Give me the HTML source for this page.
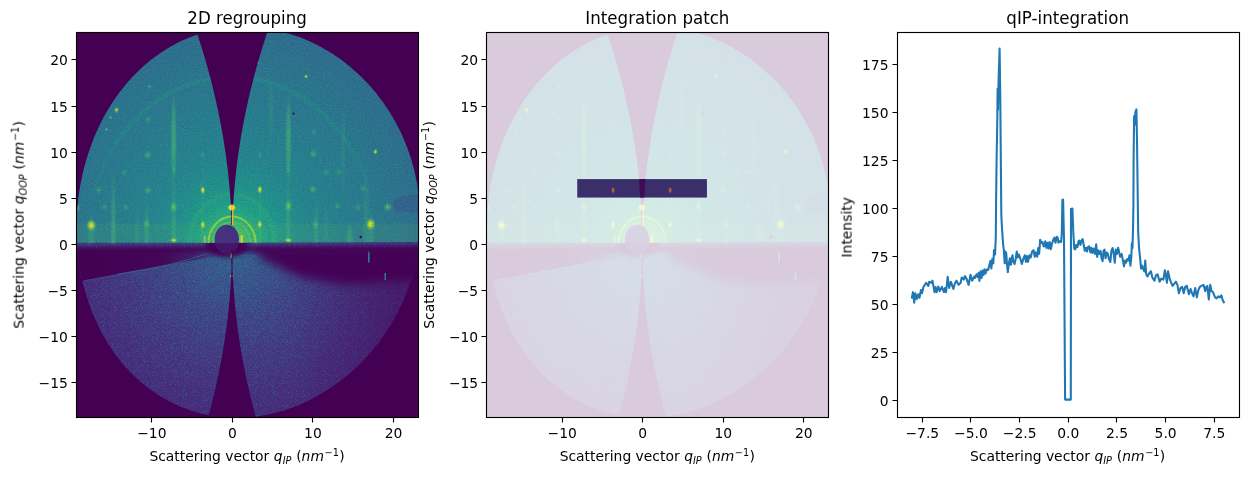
<!DOCTYPE html>
<html lang="en"><head><meta charset="utf-8"><title>qIP-integration</title>
<style>html,body{margin:0;padding:0;background:#fff}svg{display:block}text{font-family:'DejaVu Sans','Liberation Sans',sans-serif;fill:#000}</style></head>
<body>
<svg width="1248" height="478" viewBox="0 0 898.56 344.16">
<rect width="898.56" height="344.16" fill="#fff"/>
<defs><radialGradient id="gu" gradientUnits="userSpaceOnUse" cx="0" cy="0" r="260" gradientTransform="translate(232 243.5) scale(1 1.08)"><stop offset="0.000" stop-color="#7ad151"/><stop offset="0.035" stop-color="#60ca60"/><stop offset="0.062" stop-color="#40bd72"/><stop offset="0.096" stop-color="#29af7f"/><stop offset="0.146" stop-color="#1f9f88"/><stop offset="0.212" stop-color="#21918c"/><stop offset="0.308" stop-color="#25858e"/><stop offset="0.423" stop-color="#277e8e"/><stop offset="0.538" stop-color="#2a788e"/><stop offset="0.654" stop-color="#2c728e"/><stop offset="0.769" stop-color="#2f6c8e"/><stop offset="0.885" stop-color="#31678e"/><stop offset="1.000" stop-color="#33628d"/></radialGradient><radialGradient id="gl" gradientUnits="userSpaceOnUse" cx="0" cy="0" r="230" gradientTransform="translate(232 252) scale(1 1.05)"><stop offset="0.000" stop-color="#414487"/><stop offset="0.261" stop-color="#453781"/><stop offset="0.522" stop-color="#472e7c"/><stop offset="0.783" stop-color="#482576"/><stop offset="1.000" stop-color="#481f70"/></radialGradient><radialGradient id="d1" gradientUnits="userSpaceOnUse" cx="0" cy="0" r="240" gradientTransform="translate(232 256) scale(1 1)"><stop offset="0.000" stop-color="#fff" stop-opacity="0.860"/><stop offset="0.104" stop-color="#fff" stop-opacity="0.770"/><stop offset="0.250" stop-color="#fff" stop-opacity="0.650"/><stop offset="0.458" stop-color="#fff" stop-opacity="0.550"/><stop offset="0.667" stop-color="#fff" stop-opacity="0.480"/><stop offset="0.833" stop-color="#fff" stop-opacity="0.440"/><stop offset="1.000" stop-color="#fff" stop-opacity="0.410"/></radialGradient><radialGradient id="d2" gradientUnits="userSpaceOnUse" cx="0" cy="0" r="240" gradientTransform="translate(232 256) scale(1 1)"><stop offset="0.000" stop-color="#fff" stop-opacity="0.620"/><stop offset="0.104" stop-color="#fff" stop-opacity="0.540"/><stop offset="0.250" stop-color="#fff" stop-opacity="0.430"/><stop offset="0.458" stop-color="#fff" stop-opacity="0.330"/><stop offset="0.667" stop-color="#fff" stop-opacity="0.250"/><stop offset="0.833" stop-color="#fff" stop-opacity="0.200"/><stop offset="1.000" stop-color="#fff" stop-opacity="0.170"/></radialGradient><filter id="n1" x="0" y="0" width="100%" height="100%" color-interpolation-filters="sRGB"><feTurbulence type="fractalNoise" baseFrequency="1.1" numOctaves="2" seed="7" result="t"/><feColorMatrix in="t" type="matrix" values="0 0 0 0 0  0 0 0 0 0  0 0 0 0 0  1 0 0 0 0" result="n"/><feComposite in="n" in2="SourceGraphic" operator="arithmetic" k1="0" k2="1" k3="1" k4="-1" result="a"/><feComponentTransfer in="a" result="b"><feFuncA type="linear" slope="3.6" intercept="0"/></feComponentTransfer><feFlood flood-color="#3a548c" result="f"/><feComposite in="f" in2="b" operator="in" result="c"/><feGaussianBlur in="c" stdDeviation="0.6"/></filter><filter id="n2" x="0" y="0" width="100%" height="100%" color-interpolation-filters="sRGB"><feTurbulence type="fractalNoise" baseFrequency="1.2" numOctaves="2" seed="3" result="t"/><feColorMatrix in="t" type="matrix" values="0 0 0 0 0  0 0 0 0 0  0 0 0 0 0  0 1 0 0 0" result="n"/><feComposite in="n" in2="SourceGraphic" operator="arithmetic" k1="0" k2="1" k3="1" k4="-1" result="a"/><feComponentTransfer in="a" result="b"><feFuncA type="linear" slope="3.6" intercept="0"/></feComponentTransfer><feFlood flood-color="#2d718e" result="f"/><feComposite in="f" in2="b" operator="in" result="c"/><feGaussianBlur in="c" stdDeviation="0.6"/></filter><linearGradient id="hb" x1="0" x2="0" y1="0" y2="1"><stop offset="0" stop-color="#fff" stop-opacity=".68"/><stop offset=".4" stop-color="#fff" stop-opacity=".5"/><stop offset="1" stop-color="#fff" stop-opacity=".15"/></linearGradient><linearGradient id="hd" x1="0" x2="0" y1="0" y2="1"><stop offset="0" stop-color="#440154" stop-opacity=".9"/><stop offset=".55" stop-color="#440154" stop-opacity=".8"/><stop offset="1" stop-color="#440154" stop-opacity="0"/></linearGradient><linearGradient id="rgq" gradientUnits="userSpaceOnUse" x1="0" x2="0" y1="70" y2="215"><stop offset="0" stop-color="#22a884" stop-opacity="1"/><stop offset=".45" stop-color="#22a884" stop-opacity=".8"/><stop offset="1" stop-color="#22a884" stop-opacity="0"/></linearGradient><linearGradient id="hs" x1="0" x2="0" y1="0" y2="1"><stop offset="0" stop-color="#414487" stop-opacity=".75"/><stop offset=".5" stop-color="#443a83" stop-opacity=".4"/><stop offset="1" stop-color="#472a7a" stop-opacity="0"/></linearGradient><linearGradient id="drk" x1="0" x2="1" y1="0" y2="0"><stop offset="0" stop-color="#440154" stop-opacity="0"/><stop offset="1" stop-color="#440154" stop-opacity=".42"/></linearGradient><linearGradient id="shL" x1="76" x2="216" y1="0" y2="0" gradientUnits="userSpaceOnUse"><stop offset="0" stop-color="#440154" stop-opacity="1"/><stop offset=".6" stop-color="#440154" stop-opacity=".93"/><stop offset=".85" stop-color="#440154" stop-opacity=".6"/><stop offset="1" stop-color="#440154" stop-opacity=".15"/></linearGradient><filter id="n3" x="0" y="0" width="100%" height="100%" color-interpolation-filters="sRGB"><feTurbulence type="fractalNoise" baseFrequency="1.15" numOctaves="2" seed="17" result="t"/><feColorMatrix in="t" type="matrix" values="0 0 0 0 0  0 0 0 0 0  0 0 0 0 0  0 0 1 0 0" result="n"/><feComposite in="n" in2="SourceGraphic" operator="arithmetic" k1="0" k2="1" k3="1" k4="-1" result="a"/><feComponentTransfer in="a" result="b"><feFuncA type="linear" slope="3.2" intercept="0"/></feComponentTransfer><feFlood flood-color="#3c4f8a" result="f"/><feComposite in="f" in2="b" operator="in" result="c"/><feGaussianBlur in="c" stdDeviation="0.5"/></filter><filter id="n4" x="0" y="0" width="100%" height="100%" color-interpolation-filters="sRGB"><feTurbulence type="fractalNoise" baseFrequency="1.2" numOctaves="2" seed="29" result="t"/><feColorMatrix in="t" type="matrix" values="0 0 0 0 0  0 0 0 0 0  0 0 0 0 0  1 0 0 0 0" result="n"/><feComposite in="n" in2="SourceGraphic" operator="arithmetic" k1="0" k2="1" k3="1" k4="-1" result="a"/><feComponentTransfer in="a" result="b"><feFuncA type="linear" slope="3" intercept="0"/></feComponentTransfer><feFlood flood-color="#482173" result="f"/><feComposite in="f" in2="b" operator="in" result="c"/><feGaussianBlur in="c" stdDeviation="0.5"/></filter><radialGradient id="dbs" gradientUnits="userSpaceOnUse" cx="0" cy="0" r="16" gradientTransform="translate(226.8 239.2) scale(1 1)"><stop offset="0.000" stop-color="#fff" stop-opacity="0.500"/><stop offset="1.000" stop-color="#fff" stop-opacity="0.500"/></radialGradient><filter id="ng" x="0" y="0" width="100%" height="100%" color-interpolation-filters="sRGB"><feTurbulence type="fractalNoise" baseFrequency="0.7" numOctaves="2" seed="11" result="t"/><feColorMatrix in="t" type="matrix" values="0 0 0 0 .15  0 0 0 0 .68  0 0 0 0 .51  1.1 0 0 0 -0.55" result="c"/><feGaussianBlur in="c" stdDeviation=".7"/></filter><filter id="nd" x="0" y="0" width="100%" height="100%" color-interpolation-filters="sRGB"><feTurbulence type="fractalNoise" baseFrequency="0.7" numOctaves="2" seed="11" result="t"/><feColorMatrix in="t" type="matrix" values="0 0 0 0 .23  0 0 0 0 .32  0 0 0 0 .55  -1.1 0 0 0 0.55" result="c"/><feGaussianBlur in="c" stdDeviation=".7"/></filter><radialGradient id="rg"><stop offset="0" stop-color="#58c765" stop-opacity="1"/><stop offset=".55" stop-color="#4ec36b" stop-opacity=".7"/><stop offset="1" stop-color="#3bbb75" stop-opacity="0"/></radialGradient><radialGradient id="sp"><stop offset="0" stop-color="#fde725"/><stop offset=".3" stop-color="#dde318" stop-opacity=".92"/><stop offset=".6" stop-color="#8bd646" stop-opacity=".5"/><stop offset="1" stop-color="#35b779" stop-opacity="0"/></radialGradient><radialGradient id="sg"><stop offset="0" stop-color="#a8db34" stop-opacity=".9"/><stop offset=".45" stop-color="#5ec962" stop-opacity=".55"/><stop offset="1" stop-color="#35b779" stop-opacity="0"/></radialGradient><radialGradient id="sf"><stop offset="0" stop-color="#5ec962" stop-opacity=".75"/><stop offset=".55" stop-color="#35b779" stop-opacity=".35"/><stop offset="1" stop-color="#22a884" stop-opacity="0"/></radialGradient><filter id="b1" x="-50%" y="-50%" width="200%" height="200%"><feGaussianBlur stdDeviation=".6"/></filter><filter id="b6" x="-20%" y="-50%" width="140%" height="200%"><feGaussianBlur stdDeviation="5"/></filter><filter id="b3" x="-50%" y="-50%" width="200%" height="200%"><feGaussianBlur stdDeviation="2.2"/></filter><clipPath id="clow"><rect x="70" y="243.10" width="360" height="200"/></clipPath><filter id="b2" x="-50%" y="-50%" width="200%" height="200%"><feGaussianBlur stdDeviation="1.4"/></filter><clipPath id="cax"><rect x="76.128" y="32.333" width="341.912" height="385.000"/></clipPath><clipPath id="cdet"><path d="M76.6 222.8L77.2 210.2L78.4 197.6L80.3 185.2L82.8 172.9L86.0 160.8L89.8 148.9L94.2 137.3L99.2 126.0L104.8 115.1L111.1 104.6L117.9 94.5L125.3 85.0L133.3 76.1L141.7 67.8L150.7 60.1L160.1 53.2L169.9 47.0L180.1 41.6L190.6 37.1L201.3 33.3L212.3 30.5L223.3 28.4L234.5 27.3L245.7 26.9L256.9 27.5L268.0 28.8L279.0 30.9L289.9 33.9L300.6 37.6L311.1 42.0L321.4 47.2L331.3 53.1L341.0 59.6L350.3 66.9L359.1 74.8L367.6 83.3L375.6 92.5L383.0 102.2L389.9 112.5L396.2 123.4L401.9 134.7L406.8 146.4L411.0 158.6L414.5 171.0L417.1 183.8L419.0 196.7L420.0 209.7L420.2 222.8L419.5 235.8L418.0 248.8L415.8 261.5L412.7 274.0L408.9 286.2L404.3 298.0L399.1 309.4L393.3 320.3L386.9 330.8L380.0 340.7L372.6 350.1L364.7 359.0L356.4 367.3L347.8 375.0L338.7 382.1L329.4 388.7L319.7 394.6L309.8 400.0L299.6 404.7L289.2 408.7L278.6 412.0L267.8 414.6L256.8 416.5L245.7 417.6L234.5 417.9L223.3 417.3L212.1 415.9L201.0 413.6L190.1 410.3L179.3 406.2L168.8 401.2L158.7 395.3L148.9 388.6L139.6 381.0L130.8 372.7L122.6 363.6L115.0 353.9L108.1 343.7L101.8 332.9L96.2 321.6L91.3 310.0L87.1 298.0L83.6 285.8L80.8 273.4L78.7 260.8L77.4 248.2L76.6 235.5Z"/></clipPath><clipPath id="cbs"><ellipse cx="226.8" cy="239.2" rx="12.2" ry="14.4"/></clipPath><clipPath id="cup"><path d="M70 28H430V241.95L70 243.55Z"/></clipPath></defs>
<g transform="scale(0.72)">
<g id="img" clip-path="url(#cax)"><rect x="70" y="28" width="356" height="396" fill="#440154"/><g clip-path="url(#cdet)"><rect x="70" y="241.30" width="360" height="188" fill="url(#gl)"/><rect x="70" y="241.30" width="360" height="188" fill="url(#d1)" filter="url(#n1)"/><rect x="70" y="241.30" width="360" height="188" fill="url(#d2)" filter="url(#n2)"/><path d="M252 246L430 246L430 279L345 285L300 277L264 260Z" fill="#440154" opacity=".97" filter="url(#b6)"/><rect x="290" y="242.80" width="140" height="180" fill="url(#drk)"/><path d="M70 246L214 246L216 256.5L150 268.5L84 280.8L70 284Z" fill="url(#shL)"/><path d="M84 280.8L150 268.5L216 256.5" stroke="#375a8c" stroke-width=".9" fill="none" opacity=".85"/><path d="M118 274Q170 267 212 252" stroke="#2e6f8e" stroke-width=".9" fill="none" opacity=".85"/><rect x="368.1" y="251.5" width="1.5" height="11" fill="#1f958b" opacity=".95" filter="url(#b1)"/><rect x="384.5" y="273" width="1.5" height="7" fill="#228b8d" opacity=".95" filter="url(#b1)"/><rect x="230.4" y="275" width="2.8" height="2" fill="#fde725" opacity=".8"/><g transform="rotate(-0.255 232 242.80)"><rect x="60" y="241.60" width="380" height="14" fill="url(#hd)"/><rect x="60" y="242.30" width="380" height="8" fill="url(#hs)"/><rect x="60" y="242.30" width="380" height="8.5" fill="url(#hb)" filter="url(#n3)"/></g><g clip-path="url(#cup)"><rect x="70" y="28" width="360" height="214.80" fill="url(#gu)"/><rect x="70" y="223.5" width="360" height="19.30" fill="#7ad151" opacity=".10"/><path d="M394 200Q402 194 420 195L420 213L396 212Q392 206 394 200Z" fill="#375a8c" opacity=".72" filter="url(#b1)"/><ellipse cx="113.5" cy="243.0" rx="3.3" ry="75.0" fill="url(#rg)" opacity="0.45"/><ellipse cx="146.6" cy="243.0" rx="3.6" ry="48.0" fill="url(#rg)" opacity="0.30"/><ellipse cx="173.7" cy="140.0" rx="3.4" ry="48.0" fill="url(#rg)" opacity="0.55"/><ellipse cx="173.7" cy="243.0" rx="3.4" ry="70.0" fill="url(#rg)" opacity="0.36"/><ellipse cx="202.8" cy="243.0" rx="2.8" ry="80.0" fill="url(#rg)" opacity="0.16"/><ellipse cx="260.0" cy="243.0" rx="2.8" ry="80.0" fill="url(#rg)" opacity="0.16"/><ellipse cx="288.4" cy="140.0" rx="3.4" ry="48.0" fill="url(#rg)" opacity="0.55"/><ellipse cx="288.4" cy="243.0" rx="3.4" ry="70.0" fill="url(#rg)" opacity="0.36"/><ellipse cx="316.0" cy="243.0" rx="3.6" ry="48.0" fill="url(#rg)" opacity="0.28"/><ellipse cx="349.6" cy="243.0" rx="4.5" ry="24.0" fill="url(#rg)" opacity="0.38"/><ellipse cx="365.9" cy="225.0" rx="3.6" ry="70.0" fill="url(#rg)" opacity="0.20"/><ellipse cx="91.3" cy="243.0" rx="4.5" ry="34.0" fill="url(#rg)" opacity="0.28"/><ellipse cx="370.8" cy="243.0" rx="4.5" ry="36.0" fill="url(#rg)" opacity="0.28"/><ellipse cx="137.0" cy="243.0" rx="3.4" ry="42.0" fill="url(#rg)" opacity="0.16"/><ellipse cx="326.0" cy="243.0" rx="3.4" ry="42.0" fill="url(#rg)" opacity="0.14"/><ellipse cx="271.0" cy="110.0" rx="3.0" ry="40.0" fill="url(#rg)" opacity="0.16"/><ellipse cx="343.0" cy="150.0" rx="3.0" ry="50.0" fill="url(#rg)" opacity="0.14"/><ellipse cx="232" cy="243.5" rx="145" ry="166.5" fill="none" stroke="url(#rgq)" stroke-width="3.6" opacity=".36" filter="url(#b2)"/><ellipse cx="232.0" cy="243.5" rx="42.69" ry="48.91" fill="none" stroke="#5ec962" stroke-width="3.00" opacity="0.22" filter="url(#b2)"/><ellipse cx="232.0" cy="243.5" rx="23.60" ry="27.04" fill="none" stroke="#b0dd2f" stroke-width="2.00" opacity="0.78" filter="url(#b1)"/><ellipse cx="232.0" cy="243.5" rx="18.53" ry="21.23" fill="none" stroke="#86d549" stroke-width="1.30" opacity="0.45" filter="url(#b1)"/><rect x="203.7" y="235.5" width="2.2" height="7.5" fill="#fde725" opacity="0.45" filter="url(#b1)"/><rect x="240.6" y="235.5" width="2.2" height="7.5" fill="#fde725" opacity="0.80" filter="url(#b1)"/><ellipse cx="91.3" cy="225.4" rx="5.6" ry="6.8" fill="url(#sp)" opacity="1.00"/><ellipse cx="370.6" cy="224.2" rx="5.6" ry="7.0" fill="url(#sp)" opacity="1.00"/><ellipse cx="202.8" cy="190.2" rx="3.0" ry="4.8" fill="url(#sp)" opacity="1.00"/><ellipse cx="202.8" cy="224.8" rx="3.0" ry="5.0" fill="url(#sp)" opacity="1.00"/><ellipse cx="259.8" cy="189.6" rx="3.0" ry="4.8" fill="url(#sp)" opacity="1.00"/><ellipse cx="259.8" cy="224.4" rx="3.0" ry="5.0" fill="url(#sp)" opacity="1.00"/><ellipse cx="173.7" cy="207.3" rx="4.0" ry="6.0" fill="url(#sg)" opacity="0.90"/><ellipse cx="173.7" cy="240.2" rx="4.5" ry="2.6" fill="url(#sp)" opacity="0.90"/><ellipse cx="288.4" cy="206.1" rx="4.0" ry="6.5" fill="url(#sg)" opacity="0.90"/><ellipse cx="288.4" cy="240.2" rx="4.5" ry="2.6" fill="url(#sp)" opacity="0.90"/><ellipse cx="147.8" cy="155.0" rx="4.4" ry="4.8" fill="url(#sg)" opacity="0.55"/><ellipse cx="147.8" cy="190.2" rx="4.4" ry="4.8" fill="url(#sg)" opacity="0.55"/><ellipse cx="146.6" cy="224.0" rx="4.0" ry="6.0" fill="url(#sg)" opacity="0.55"/><ellipse cx="313.4" cy="153.9" rx="4.4" ry="4.8" fill="url(#sg)" opacity="0.55"/><ellipse cx="313.0" cy="189.3" rx="4.4" ry="4.8" fill="url(#sg)" opacity="0.55"/><ellipse cx="315.6" cy="224.6" rx="3.4" ry="5.2" fill="url(#sg)" opacity="0.55"/><ellipse cx="125.7" cy="207.3" rx="4.0" ry="4.6" fill="url(#sf)" opacity="0.70"/><ellipse cx="104.6" cy="207.3" rx="4.0" ry="4.6" fill="url(#sf)" opacity="0.60"/><ellipse cx="98.9" cy="190.2" rx="4.0" ry="4.6" fill="url(#sf)" opacity="0.70"/><ellipse cx="124.0" cy="172.6" rx="4.0" ry="4.2" fill="url(#sf)" opacity="0.60"/><ellipse cx="337.4" cy="206.1" rx="4.0" ry="4.6" fill="url(#sf)" opacity="0.70"/><ellipse cx="357.8" cy="207.5" rx="4.0" ry="5.2" fill="url(#sf)" opacity="0.60"/><ellipse cx="363.2" cy="188.4" rx="4.0" ry="4.6" fill="url(#sf)" opacity="0.60"/><ellipse cx="326.0" cy="172.1" rx="4.0" ry="4.2" fill="url(#sf)" opacity="0.60"/><ellipse cx="338.7" cy="172.1" rx="4.0" ry="4.2" fill="url(#sf)" opacity="0.60"/><ellipse cx="387.7" cy="206.9" rx="4.8" ry="5.0" fill="url(#sg)" opacity="0.80"/><ellipse cx="77.5" cy="207.8" rx="3.2" ry="4.6" fill="url(#sg)" opacity="0.80"/><ellipse cx="375.4" cy="151.7" rx="2.4" ry="3.0" fill="url(#sp)" opacity="1.00"/><ellipse cx="116.5" cy="110.0" rx="2.8" ry="3.4" fill="url(#sp)" opacity="0.85"/><ellipse cx="110.5" cy="117.5" rx="1.8" ry="2.2" fill="url(#sg)" opacity="0.90"/><ellipse cx="106.5" cy="129.5" rx="1.8" ry="2.2" fill="url(#sg)" opacity="0.80"/><ellipse cx="149.5" cy="86.5" rx="2.6" ry="2.8" fill="url(#sf)" opacity="0.90"/><ellipse cx="148.0" cy="119.5" rx="4.0" ry="4.6" fill="url(#sf)" opacity="0.60"/><ellipse cx="306.0" cy="76.5" rx="2.2" ry="2.4" fill="url(#sp)" opacity="0.90"/><ellipse cx="257.5" cy="62.5" rx="1.6" ry="2.4" fill="url(#sp)" opacity="0.70"/><ellipse cx="202.6" cy="155.0" rx="3.0" ry="4.0" fill="url(#sf)" opacity="0.60"/><ellipse cx="260.0" cy="155.0" rx="3.0" ry="4.0" fill="url(#sf)" opacity="0.60"/><ellipse cx="314.0" cy="132.0" rx="4.0" ry="4.6" fill="url(#sf)" opacity="0.50"/><ellipse cx="173.7" cy="170.0" rx="3.0" ry="6.0" fill="url(#sf)" opacity="0.50"/><ellipse cx="288.4" cy="170.0" rx="3.0" ry="6.0" fill="url(#sf)" opacity="0.50"/><rect x="70" y="28" width="360" height="214.80" filter="url(#ng)"/><rect x="70" y="28" width="360" height="214.80" filter="url(#nd)"/></g><circle cx="360.7" cy="237" r="1.3" fill="#440154"/><circle cx="293.5" cy="113.6" r="1.1" fill="#440154"/><g clip-path="url(#clow)"><ellipse cx="227" cy="245" rx="21" ry="12.5" fill="#440154" opacity=".92" filter="url(#b3)"/></g><ellipse cx="226.8" cy="239.2" rx="12.2" ry="14.4" fill="#463480"/><ellipse cx="226.8" cy="239.2" rx="12.2" ry="14.4" fill="url(#dbs)" filter="url(#n4)" opacity=".8"/><path d="M213 243.30H241V256H213Z" fill="#440154" opacity=".55" clip-path="url(#cbs)"/></g><path d="M195.99 30.00L198.64 38.00L201.19 46.00L203.63 54.00L205.98 62.00L208.22 70.00L210.36 78.00L212.40 86.00L214.34 94.00L216.18 102.00L217.92 110.00L219.56 118.00L221.09 126.00L222.53 134.00L223.86 142.00L225.09 150.00L226.22 158.00L227.26 166.00L228.18 174.00L229.01 182.00L229.74 190.00L230.36 198.00L230.89 206.00L231.31 214.00L232.69 214.00L233.11 206.00L233.64 198.00L234.26 190.00L234.99 182.00L235.82 174.00L236.74 166.00L237.78 158.00L238.91 150.00L240.14 142.00L241.47 134.00L242.91 126.00L244.44 118.00L246.08 110.00L247.82 102.00L249.66 94.00L251.60 86.00L253.64 78.00L255.78 70.00L258.02 62.00L260.37 54.00L262.81 46.00L265.36 38.00L268.01 30.00Z" fill="#440154"/><path d="M231.73 262.00L231.49 268.87L231.18 275.74L230.79 282.61L230.33 289.48L229.79 296.35L229.18 303.22L228.50 310.09L227.74 316.96L226.90 323.83L225.99 330.70L225.01 337.57L223.95 344.43L222.82 351.30L221.61 358.17L220.33 365.04L218.97 371.91L217.54 378.78L216.04 385.65L214.46 392.52L212.80 399.39L211.07 406.26L209.27 413.13L207.39 420.00L256.61 420.00L254.73 413.13L252.93 406.26L251.20 399.39L249.54 392.52L247.96 385.65L246.46 378.78L245.03 371.91L243.67 365.04L242.39 358.17L241.18 351.30L240.05 344.43L238.99 337.57L238.01 330.70L237.10 323.83L236.26 316.96L235.50 310.09L234.82 303.22L234.21 296.35L233.67 289.48L233.21 282.61L232.82 275.74L232.51 268.87L232.27 262.00Z" fill="#440154"/><rect x="231.4" y="250" width="1.1" height="14" fill="#440154"/><rect x="230.7" y="253.5" width="1" height="4.5" fill="#7ad151" opacity=".8" filter="url(#b1)"/><rect x="231.2" y="210" width=".9" height="15" fill="#440154" opacity=".85"/><rect x="232.0" y="208" width="1.3" height="17" fill="#fdb42f" opacity=".95"/><ellipse cx="231.7" cy="207.6" rx="5.4" ry="4.6" fill="url(#sp)"/><ellipse cx="231.7" cy="207.6" rx="2.9" ry="2.4" fill="#fde725" opacity=".9" filter="url(#b1)"/><ellipse cx="231.9" cy="207.8" rx="1.0" ry="1.5" fill="#f89540" opacity=".8"/></g>
<use href="#img" x="410.294" y="0" opacity="0.2"/>
<g><rect x="577.25" y="179.10" width="129.68" height="18.46" fill="#3a2f6b"/><path d="M639.09 179.10L645.49 179.10L644.39 197.56L640.19 197.56Z" fill="#3e0b56"/><ellipse cx="613.1" cy="190.2" rx="1.5" ry="2.8" fill="#b0652f" opacity=".9" filter="url(#b1)"/><ellipse cx="670.1" cy="190.2" rx="1.5" ry="2.8" fill="#b0652f" opacity=".9" filter="url(#b1)"/></g>
</g>
<clipPath id="c3"><rect x="645.636" y="23.280" width="246.176" height="277.200"/></clipPath>
<path d="M 656.59 214.13 L 657.34 210.36 L 658.25 217.89 L 659.00 211.12 L 660.05 215.33 L 661.11 211.87 L 662.01 214.43 L 663.07 208.86 L 663.82 211.12 L 664.87 206.60 L 666.83 203.58 L 668.34 205.84 L 669.09 202.83 L 670.60 203.58 L 671.35 202.08 L 672.86 210.36 L 673.61 206.60 L 674.36 210.36 L 675.57 206.30 L 676.62 209.61 L 678.13 206.60 L 679.63 210.36 L 680.39 207.35 L 681.14 210.36 L 682.35 199.37 L 683.40 207.35 L 684.61 202.83 L 686.41 208.10 L 687.47 204.34 L 688.67 202.08 L 690.18 205.09 L 691.68 203.58 L 692.44 199.82 L 693.94 201.33 L 694.70 198.76 L 695.90 200.57 L 697.41 205.09 L 698.76 197.86 L 699.97 202.08 L 701.47 199.07 L 702.00 200.13 L 703.06 197.50 L 703.90 199.61 L 704.64 196.44 L 705.17 202.24 L 706.01 195.39 L 706.75 200.13 L 707.48 194.86 L 708.12 198.02 L 708.86 193.81 L 709.59 196.97 L 710.44 194.02 L 711.49 194.33 L 713.07 188.01 L 713.81 193.28 L 714.44 186.43 L 715.18 189.59 L 715.71 180.10 L 716.45 183.26 L 716.97 170.61 L 717.19 144.00 L 717.55 115.19 L 718.06 86.39 L 718.27 63.86 L 718.56 79.19 L 718.99 57.59 L 719.71 34.91 L 720.22 71.99 L 720.94 154.80 L 721.51 165.34 L 722.24 175.88 L 722.77 180.10 L 723.40 189.59 L 723.93 181.15 L 724.46 182.21 L 724.99 189.59 L 725.62 195.91 L 726.25 190.64 L 727.09 185.90 L 727.83 190.64 L 728.36 186.43 L 728.99 183.79 L 729.63 188.53 L 730.47 190.12 L 731.31 186.43 L 732.05 181.15 L 732.79 185.37 L 733.63 183.26 L 734.69 186.43 L 735.74 190.12 L 736.79 186.43 L 737.85 183.79 L 738.69 188.53 L 739.43 184.32 L 740.17 188.53 L 741.22 183.79 L 742.07 185.37 L 743.12 181.15 L 744.17 180.10 L 745.02 184.84 L 745.76 181.68 L 746.81 184.84 L 747.55 178.52 L 748.18 182.74 L 748.92 172.72 L 749.66 174.83 L 750.50 174.30 L 751.55 177.46 L 751.74 177.39 L 752.58 173.70 L 753.42 178.44 L 754.16 174.75 L 754.90 178.97 L 755.74 174.22 L 756.59 179.50 L 757.33 175.81 L 758.38 172.64 L 759.12 171.06 L 759.96 174.75 L 760.81 170.53 L 761.54 171.06 L 762.07 174.75 L 762.91 173.70 L 763.97 174.22 L 764.50 168.43 L 764.92 143.96 L 765.44 143.65 L 766.08 172.80 L 766.87 287.71 L 770.98 287.71 L 771.12 150.48 L 772.13 150.12 L 772.82 168.43 L 773.46 178.97 L 774.19 179.50 L 774.93 176.33 L 775.78 177.91 L 776.51 173.70 L 777.15 173.17 L 777.88 176.33 L 778.73 173.17 L 779.47 172.12 L 781.05 180.55 L 781.89 178.44 L 782.63 181.08 L 783.37 177.91 L 784.21 177.39 L 785.05 181.60 L 785.79 178.44 L 786.53 182.13 L 787.37 178.97 L 788.40 182.83 L 789.24 175.97 L 789.98 184.93 L 790.72 180.19 L 791.56 182.83 L 792.41 180.72 L 793.14 185.99 L 793.88 188.10 L 794.52 180.72 L 795.25 179.66 L 795.99 185.99 L 796.83 181.77 L 797.68 182.83 L 798.42 186.52 L 799.47 188.62 L 800.21 180.72 L 801.05 178.61 L 801.90 182.83 L 802.63 189.15 L 803.37 179.66 L 804.22 182.83 L 805.06 178.40 L 806.53 184.93 L 807.59 182.83 L 809.28 191.79 L 810.01 187.57 L 810.75 189.15 L 811.60 186.52 L 812.44 187.57 L 813.18 183.88 L 813.91 191.26 L 814.55 184.93 L 814.97 174.92 L 815.39 178.61 L 815.81 163.85 L 816.05 147.60 L 816.19 115.19 L 816.55 83.59 L 816.91 89.99 L 817.49 80.63 L 818.21 78.76 L 818.64 100.79 L 819.50 167.01 L 820.03 177.55 L 821.61 193.37 L 822.35 191.26 L 823.19 193.90 L 824.04 195.48 L 824.56 187.57 L 825.30 197.59 L 826.21 199.07 L 827.41 196.81 L 828.62 195.30 L 829.67 199.82 L 831.18 202.08 L 832.23 198.31 L 833.44 197.56 L 834.94 202.83 L 836.15 200.57 L 837.65 201.33 L 838.71 194.55 L 839.46 198.31 L 840.22 203.58 L 840.97 195.30 L 842.17 200.57 L 843.23 203.58 L 844.28 205.84 L 846.69 202.83 L 847.75 205.09 L 848.80 211.12 L 850.01 207.35 L 851.21 206.60 L 852.27 211.12 L 853.32 206.60 L 854.52 205.84 L 856.03 211.87 L 857.24 208.10 L 858.29 211.12 L 859.34 213.38 L 860.55 207.35 L 861.75 214.13 L 862.81 208.86 L 863.86 206.60 L 865.07 205.84 L 866.57 205.09 L 867.78 209.61 L 868.53 206.60 L 869.29 205.84 L 870.34 215.63 L 871.39 205.09 L 872.30 209.61 L 873.35 210.36 L 874.86 214.13 L 875.91 214.88 L 877.12 213.38 L 878.32 214.13 L 879.38 212.62 L 880.43 216.39 L 881.19 217.59 L 881.19 217.59" clip-path="url(#c3)" fill="none" stroke="#1f77b4" stroke-width="1.5" stroke-linecap="square" stroke-linejoin="round"/>
<g transform="scale(0.72)" stroke="#000" stroke-width="1.111" fill="none" stroke-linecap="butt">
<path d="M151.5 417.5v5M232.5 417.5v5M312.5 417.5v5M393.5 417.5v5M562.5 417.5v5M642.5 417.5v5M723.5 417.5v5M803.5 417.5v5M922.5 417.5v5M970.5 417.5v5M1019.5 417.5v5M1068.5 417.5v5M1116.5 417.5v5M1165.5 417.5v5M1214.5 417.5v5M76.5 382.5h-5M76.5 336.5h-5M76.5 290.5h-5M76.5 244.5h-5M76.5 198.5h-5M76.5 152.5h-5M76.5 106.5h-5M76.5 59.5h-5M486.5 382.5h-5M486.5 336.5h-5M486.5 290.5h-5M486.5 244.5h-5M486.5 198.5h-5M486.5 152.5h-5M486.5 106.5h-5M486.5 59.5h-5M897.5 400.5h-5M897.5 352.5h-5M897.5 304.5h-5M897.5 256.5h-5M897.5 208.5h-5M897.5 160.5h-5M897.5 112.5h-5M897.5 64.5h-5"/>
<rect x="76.5" y="32.5" width="342.0" height="385.0" stroke-linejoin="miter"/>
<rect x="486.5" y="32.5" width="342.0" height="385.0" stroke-linejoin="miter"/>
<rect x="897.5" y="32.5" width="342.0" height="385.0" stroke-linejoin="miter"/>
</g>
<g id="txt" opacity="0.999">
<text x="109.330" y="315.078" font-size="10" text-anchor="middle">−10</text>
<text x="167.328" y="315.078" font-size="10" text-anchor="middle">0</text>
<text x="225.325" y="315.078" font-size="10" text-anchor="middle">10</text>
<text x="283.323" y="315.078" font-size="10" text-anchor="middle">20</text>
<text x="48.892" y="279.664" font-size="10" text-anchor="end">−15</text>
<text x="48.892" y="246.442" font-size="10" text-anchor="end">−10</text>
<text x="48.892" y="213.221" font-size="10" text-anchor="end">−5</text>
<text x="48.892" y="179.999" font-size="10" text-anchor="end">0</text>
<text x="48.892" y="146.778" font-size="10" text-anchor="end">5</text>
<text x="48.892" y="113.556" font-size="10" text-anchor="end">10</text>
<text x="48.892" y="80.335" font-size="10" text-anchor="end">15</text>
<text x="48.892" y="47.113" font-size="10" text-anchor="end">20</text>
<text transform="translate(177.900 17.280) scale(1 1.1)" font-size="12" text-anchor="middle">2D regrouping</text>
<text x="404.742" y="315.078" font-size="10" text-anchor="middle">−10</text>
<text x="462.739" y="315.078" font-size="10" text-anchor="middle">0</text>
<text x="520.737" y="315.078" font-size="10" text-anchor="middle">10</text>
<text x="578.735" y="315.078" font-size="10" text-anchor="middle">20</text>
<text x="344.304" y="279.664" font-size="10" text-anchor="end">−15</text>
<text x="344.304" y="246.442" font-size="10" text-anchor="end">−10</text>
<text x="344.304" y="213.221" font-size="10" text-anchor="end">−5</text>
<text x="344.304" y="179.999" font-size="10" text-anchor="end">0</text>
<text x="344.304" y="146.778" font-size="10" text-anchor="end">5</text>
<text x="344.304" y="113.556" font-size="10" text-anchor="end">10</text>
<text x="344.304" y="80.335" font-size="10" text-anchor="end">15</text>
<text x="344.304" y="47.113" font-size="10" text-anchor="end">20</text>
<text transform="translate(473.312 17.280) scale(1 1.1)" font-size="12" text-anchor="middle">Integration patch</text>
<text x="664.062" y="315.078" font-size="10" text-anchor="middle">−7.5</text>
<text x="699.102" y="315.078" font-size="10" text-anchor="middle">−5.0</text>
<text x="734.142" y="315.078" font-size="10" text-anchor="middle">−2.5</text>
<text x="769.182" y="315.078" font-size="10" text-anchor="middle">0.0</text>
<text x="804.222" y="315.078" font-size="10" text-anchor="middle">2.5</text>
<text x="839.262" y="315.078" font-size="10" text-anchor="middle">5.0</text>
<text x="874.302" y="315.078" font-size="10" text-anchor="middle">7.5</text>
<text x="639.716" y="292.230" font-size="10" text-anchor="end">0</text>
<text x="639.716" y="257.669" font-size="10" text-anchor="end">25</text>
<text x="639.716" y="223.109" font-size="10" text-anchor="end">50</text>
<text x="639.716" y="188.548" font-size="10" text-anchor="end">75</text>
<text x="639.716" y="153.988" font-size="10" text-anchor="end">100</text>
<text x="639.716" y="119.427" font-size="10" text-anchor="end">125</text>
<text x="639.716" y="84.867" font-size="10" text-anchor="end">150</text>
<text x="639.716" y="50.306" font-size="10" text-anchor="end">175</text>
<text x="613.468" y="163.680" font-size="10" text-anchor="middle" transform="rotate(-90 613.468 163.680)">Intensity</text>
<text transform="translate(768.724 17.280) scale(1 1.1)" font-size="12" text-anchor="middle">qIP-integration</text>
<g transform="translate(107.550 332.318)"><text font-size="10"><tspan x="0" y="-0.064">Scattering vector </tspan><tspan x="89.619" y="-0.064" font-style="oblique">q</tspan><tspan x="95.967" y="1.577" font-size="7" font-style="oblique">IP</tspan><tspan x="102.526" y="-0.064"> (</tspan><tspan x="109.606" y="-0.064" font-style="oblique">nm</tspan><tspan x="126.149" y="-3.892" font-size="7">−1</tspan><tspan x="136.741" y="-0.064">)</tspan></text></g>
<g transform="translate(17.367 236.680) rotate(-90)"><text font-size="10"><tspan x="0" y="-0.064">Scattering vector </tspan><tspan x="89.619" y="-0.064" font-style="oblique">q</tspan><tspan x="95.967" y="1.577" font-size="7" font-style="oblique">OOP</tspan><tspan x="111.481" y="-0.064"> (</tspan><tspan x="118.561" y="-0.064" font-style="oblique">nm</tspan><tspan x="135.104" y="-3.892" font-size="7">−1</tspan><tspan x="145.697" y="-0.064">)</tspan></text></g>
<g transform="translate(402.962 332.318)"><text font-size="10"><tspan x="0" y="-0.064">Scattering vector </tspan><tspan x="89.619" y="-0.064" font-style="oblique">q</tspan><tspan x="95.967" y="1.577" font-size="7" font-style="oblique">IP</tspan><tspan x="102.526" y="-0.064"> (</tspan><tspan x="109.606" y="-0.064" font-style="oblique">nm</tspan><tspan x="126.149" y="-3.892" font-size="7">−1</tspan><tspan x="136.741" y="-0.064">)</tspan></text></g>
<g transform="translate(312.779 236.680) rotate(-90)"><text font-size="10"><tspan x="0" y="-0.064">Scattering vector </tspan><tspan x="89.619" y="-0.064" font-style="oblique">q</tspan><tspan x="95.967" y="1.577" font-size="7" font-style="oblique">OOP</tspan><tspan x="111.481" y="-0.064"> (</tspan><tspan x="118.561" y="-0.064" font-style="oblique">nm</tspan><tspan x="135.104" y="-3.892" font-size="7">−1</tspan><tspan x="145.697" y="-0.064">)</tspan></text></g>
<g transform="translate(698.374 332.318)"><text font-size="10"><tspan x="0" y="-0.064">Scattering vector </tspan><tspan x="89.619" y="-0.064" font-style="oblique">q</tspan><tspan x="95.967" y="1.577" font-size="7" font-style="oblique">IP</tspan><tspan x="102.526" y="-0.064"> (</tspan><tspan x="109.606" y="-0.064" font-style="oblique">nm</tspan><tspan x="126.149" y="-3.892" font-size="7">−1</tspan><tspan x="136.741" y="-0.064">)</tspan></text></g>
</g>
</svg>
</body></html>
